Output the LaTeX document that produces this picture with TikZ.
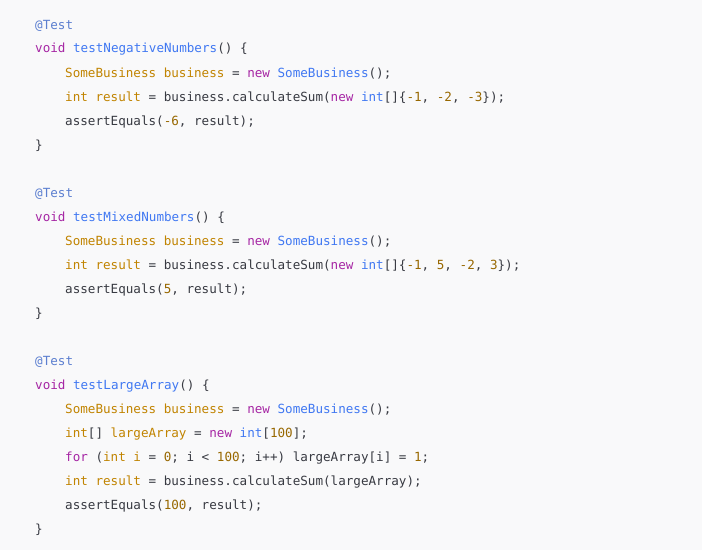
\documentclass[tikz,border=0pt]{standalone}
\usepackage{fontspec}
\setmonofont{DejaVu Sans Mono}[Scale=1]
\definecolor{bg}{HTML}{F9F9FA}
\definecolor{tx}{HTML}{383A42}
\definecolor{kwc}{HTML}{A626A4}
\definecolor{tyc}{HTML}{C18401}
\definecolor{fnc}{HTML}{4078F2}
\definecolor{nmc}{HTML}{986801}
\definecolor{anc}{HTML}{5C7FD0}
\newcommand{\KW}[1]{\textcolor{kwc}{#1}}
\newcommand{\TY}[1]{\textcolor{tyc}{#1}}
\newcommand{\FN}[1]{\textcolor{fnc}{#1}}
\newcommand{\NM}[1]{\textcolor{nmc}{#1}}
\newcommand{\AN}[1]{\textcolor{anc}{#1}}
\begin{document}
\begin{tikzpicture}[x=1bp,y=-1bp,
  code/.style={anchor=base west,inner sep=0pt,text=tx,font=\fontsize{12.6bp}{15bp}\ttfamily}]
\fill[bg] (0,0) rectangle (702,550);
\useasboundingbox (0,0) rectangle (702,550);
\def\Ln#1#2#3#4{\node[code] (#1) at (#2,#3+4.5) {#4};}
\Ln{a1}{35}{25}{\AN{@Test}}
\Ln{a2}{35}{48}{\KW{void} \FN{testNegativeNumbers}() \{}
\Ln{a3}{65}{73}{\TY{SomeBusiness} \TY{business} = \KW{new} \FN{SomeBusiness}();}
\Ln{a4}{65}{97}{\TY{int} \TY{result} = business.calculateSum(\KW{new} \FN{int}[]\{\NM{-1}, \NM{-2}, \NM{-3}\});}
\Ln{a5}{65}{121}{assertEquals(\NM{-6}, result);}
\Ln{a6}{35}{145}{\}}
\Ln{b1}{35}{193}{\AN{@Test}}
\Ln{b2}{35}{217}{\KW{void} \FN{testMixedNumbers}() \{}
\Ln{b3}{65}{241}{\TY{SomeBusiness} \TY{business} = \KW{new} \FN{SomeBusiness}();}
\Ln{b4}{65}{265}{\TY{int} \TY{result} = business.calculateSum(\KW{new} \FN{int}[]\{\NM{-1}, \NM{5}, \NM{-2}, \NM{3}\});}
\Ln{b5}{65}{289}{assertEquals(\NM{5}, result);}
\Ln{b6}{35}{313}{\}}
\Ln{c1}{35}{361}{\AN{@Test}}
\Ln{c2}{35}{385}{\KW{void} \FN{testLargeArray}() \{}
\Ln{c3}{65}{409}{\TY{SomeBusiness} \TY{business} = \KW{new} \FN{SomeBusiness}();}
\Ln{c4}{65}{433}{\TY{int}[] \TY{largeArray} = \KW{new} \FN{int}[\NM{100}];}
\Ln{c5}{65}{457}{\KW{for} (\TY{int} \TY{i} = \NM{0}; i < \NM{100}; i++) largeArray[i] = \NM{1};}
\Ln{c6}{65}{481}{\TY{int} \TY{result} = business.calculateSum(largeArray);}
\Ln{c7}{65}{505}{assertEquals(\NM{100}, result);}
\Ln{c8}{35}{529}{\}}
\end{tikzpicture}
\end{document}
